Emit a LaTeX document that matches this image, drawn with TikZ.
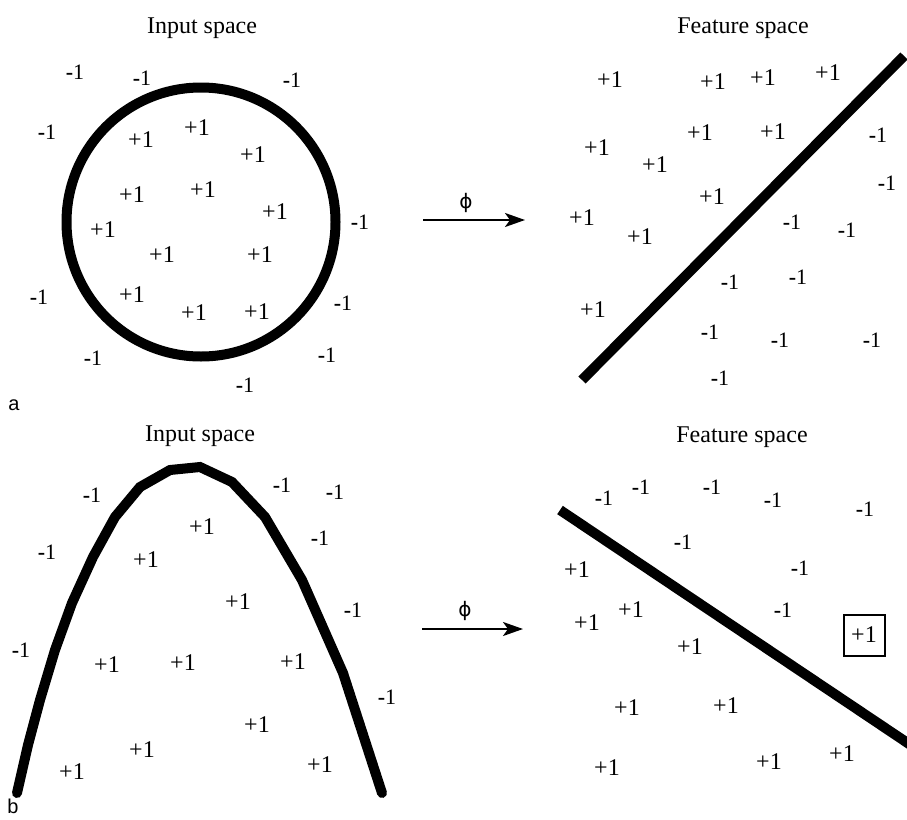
\documentclass[tikz,border=0pt]{standalone}
\usepackage{fontspec}
\setmainfont{Liberation Serif}
\newfontfamily\sansA{Liberation Sans}
\newfontfamily\phifont{DejaVu Sans}
\usetikzlibrary{arrows.meta}
\newcommand{\mone}{\textbf{-}1}
\tikzset{
  plusl/.style={font=\fontsize{24}{24}\selectfont, inner sep=0pt},
  minusl/.style={font=\fontsize{22}{22}\selectfont, inner sep=0pt},
  ttl/.style={font=\fontsize{24}{24}\selectfont, inner sep=0pt, anchor=base},
  panel/.style={font=\sansA\fontsize{20}{20}\selectfont, inner sep=0pt},
  phil/.style={font=\phifont\fontsize{20}{20}\selectfont, inner sep=0pt},
  mapar/.style={line width=2.3pt, -{Stealth[length=20pt, width=14pt, inset=5pt]}},
  sepline/.style={line width=10pt},
  sepcurve/.style={line width=10pt, line cap=round},
  boxed/.style={draw, line width=2pt, minimum size=41pt, inner sep=0pt, font=\fontsize{24}{24}\selectfont}
}
\begin{document}
\begin{tikzpicture}[x=1pt, y=-1pt]
\useasboundingbox (0,0) rectangle (907,819);
\fill[white] (0,0) rectangle (907,819);

% ---------------- panel a : input space ----------------
\node[ttl] (tA1) at (202,33) {Input space};
\node[circle, draw, line width=10pt, minimum size=269pt, inner sep=0pt] (circ) at (201,222) {};
\foreach \x/\y [count=\i] in {75/72,142/78,292/80,47/132,360/222,39/297,343/303,93/358,327/355,245/385}
  \node[minusl] (nA\i) at (\x,\y) {\mone};
\foreach \x/\y [count=\i] in {141/140,197/128,253/155,132/195,203/190,275/212,103/230,162/255,260/255,132/295,194/313,257/312}
  \node[plusl] (pA\i) at (\x,\y) {+1};
\node[panel] (labA) at (14,405) {a};

% arrow a
\coordinate (arA1) at (423,220);
\coordinate (arA2) at (525,220);
\draw[mapar] (arA1) -- (arA2);
\node[phil] (phiA) at (466,203) {ϕ};

% ---------------- panel a : feature space ----------------
\node[ttl] (tA2) at (743,33) {Feature space};
\coordinate (lA1) at (582,380);
\coordinate (lA2) at (904,56);
\draw[sepline] (lA1) -- (lA2);
\foreach \x/\y [count=\i] in {610/80,713/82,763/78,828/73,700/133,773/132,597/148,655/165,712/197,582/218,640/237,593/310}
  \node[plusl] (pF\i) at (\x,\y) {+1};
\foreach \x/\y [count=\i] in {878/135,887/183,792/222,847/230,730/282,798/277,710/332,780/340,872/340,720/378}
  \node[minusl] (nF\i) at (\x,\y) {\mone};

% ---------------- panel b : input space ----------------
\node[ttl] (tB1) at (200,441) {Input space};
\draw[sepcurve] (17,793) coordinate (cB0) -- (28,745) -- (40,700) -- (55,650) -- (72,603) -- (93,557) -- (115,517) -- (140,487) -- (170,470) -- (200,467) -- (232,482) -- (265,517) -- (302,580) -- (343,673) -- (382,793) coordinate (cB1);
\foreach \x/\y [count=\i] in {92/495,282/485,335/492,47/552,320/538,353/610,21/650,387/697}
  \node[minusl] (nB\i) at (\x,\y) {\mone};
\foreach \x/\y [count=\i] in {202/527,146/560,238/602,107/665,183/663,293/662,257/725,142/750,72/772,320/765}
  \node[plusl] (pB\i) at (\x,\y) {+1};
\node[panel, anchor=base] (labB) at (13,813) {b};

% arrow b
\coordinate (arB1) at (422,629);
\coordinate (arB2) at (523,629);
\draw[mapar] (arB1) -- (arB2);
\node[phil] (phiB) at (465,611) {ϕ};

% ---------------- panel b : feature space ----------------
\node[ttl] (tB2) at (742,442) {Feature space};
\coordinate (lB1) at (560,510);
\coordinate (lB2) at (930,758);
\draw[sepline] (lB1) -- (lB2);
\foreach \x/\y [count=\i] in {604/498,641/487,712/487,773/500,865/509,683/542,800/568,783/610}
  \node[minusl] (nG\i) at (\x,\y) {\mone};
\foreach \x/\y [count=\i] in {577/570,631/610,587/623,690/647,627/708,726/706,607/768,769/762,842/754}
  \node[plusl] (pG\i) at (\x,\y) {+1};
\node[boxed] (boxp) at (864,635) {+1};
\end{tikzpicture}
\end{document}
